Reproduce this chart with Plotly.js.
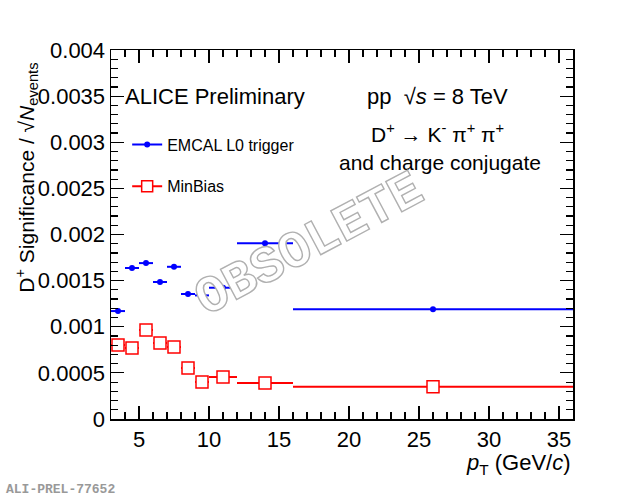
<!DOCTYPE html>
<html>
<head>
<meta charset="utf-8">
<script src="https://cdn.plot.ly/plotly-3.0.1.min.js"></script>
<style>
  body { margin: 0; background: #fff; }
  /* outlined watermark */
  g.annotation[data-index="5"] text { fill: #fff !important; stroke: #b0b0b0; stroke-width: 1.4px; }
</style>
</head>
<body>
<div id="myPlot" style="width:620px;height:497px;"></div>
<script>
// pT bins (GeV/c)
var binCenters = [3.5, 4.5, 5.5, 6.5, 7.5, 8.5, 9.5, 11, 14, 26];
var binHalfWidths = [0.5, 0.5, 0.5, 0.5, 0.5, 0.5, 0.5, 1, 2, 10];

// D+ significance / sqrt(Nevents)
var emcalSig = [0.00117, 0.001637, 0.00169, 0.001485, 0.00165, 0.001355, 0.00134, 0.001423, 0.001905, 0.001189];
var emcalErr = [0.00002, 0.00002, 0.00002, 0.00002, 0.00002, 0.00002, 0.00002, 0.00002, 0.00002, 0.00001];
var minbiasSig = [0.000802, 0.00077, 0.000965, 0.000824, 0.00078, 0.000553, 0.000401, 0.000455, 0.00039, 0.00035];
var minbiasErr = [0.00002, 0.00002, 0.00002, 0.00002, 0.00002, 0.00002, 0.00002, 0.00002, 0.00001, 0.00001];

var yTickVals = [0, 0.0005, 0.001, 0.0015, 0.002, 0.0025, 0.003, 0.0035, 0.004];
var yTickText = ['0', '0.0005', '0.001', '0.0015', '0.002', '0.0025', '0.003', '0.0035', '0.004'];

var blue = 'rgb(0,0,255)';
var red = 'rgb(255,0,0)';

var emcal = {
  x: binCenters, y: emcalSig, type: 'scatter', mode: 'markers',
  marker: {color: blue, size: 6, symbol: 'circle'},
  error_x: {type: 'data', array: binHalfWidths, width: 0, thickness: 2, color: blue},
  error_y: {type: 'data', array: emcalErr, width: 0, thickness: 2, color: blue},
  showlegend: false
};
var minbias = {
  x: binCenters, y: minbiasSig, type: 'scatter', mode: 'markers',
  marker: {color: 'white', size: 12, symbol: 'square', line: {color: red, width: 1.5}},
  error_x: {type: 'data', array: binHalfWidths, width: 0, thickness: 2, color: red},
  error_y: {type: 'data', array: minbiasErr, width: 0, thickness: 2, color: red},
  showlegend: false
};
// legend entries
var emcalLeg = {
  x: [null], y: [null], type: 'scatter', mode: 'lines+markers', name: 'EMCAL L0 trigger',
  line: {color: blue, width: 2}, marker: {color: blue, size: 6}, legendgroup: 'a'
};
var minbiasLeg = {
  x: [null], y: [null], type: 'scatter', mode: 'lines+markers', name: 'MinBias',
  line: {color: red, width: 2},
  marker: {color: 'white', size: 11, symbol: 'square', line: {color: red, width: 1.5}},
  legendgroup: 'b'
};

var font = 'Liberation Sans, Arial, sans-serif';

var layout = {
  width: 620, height: 497,
  margin: {l: 111, r: 47, t: 50, b: 78},
  paper_bgcolor: 'white', plot_bgcolor: 'white',
  font: {family: font, color: 'black', size: 22},
  xaxis: {
    range: [3, 36], showgrid: false, zeroline: false,
    showline: true, linecolor: 'black', linewidth: 1.5, mirror: 'allticks',
    ticks: 'inside', ticklen: 13, tickwidth: 1.2, tickcolor: 'black',
    tickvals: [5, 10, 15, 20, 25, 30, 35],
    tickfont: {size: 22},
    minor: {dtick: 1, tick0: 0, ticks: 'inside', ticklen: 7, tickwidth: 1.2, tickcolor: 'black'}
  },
  yaxis: {
    range: [0, 0.004], showgrid: false, zeroline: false,
    showline: true, linecolor: 'black', linewidth: 1.5, mirror: 'allticks',
    ticks: 'inside', ticklen: 13, tickwidth: 1.2, tickcolor: 'black',
    tickvals: yTickVals, ticktext: yTickText,
    tickfont: {size: 22},
    minor: {dtick: 0.0001, tick0: 0, ticks: 'inside', ticklen: 7, tickwidth: 1.2, tickcolor: 'black'}
  },
  legend: {
    x: 0.035, y: 0.79, xanchor: 'left', yanchor: 'top',
    bgcolor: 'rgba(0,0,0,0)', borderwidth: 0,
    font: {size: 16}, tracegroupgap: 18
  },
  annotations: [
    {xref: 'paper', yref: 'paper', x: 0.025, y: 0.875, xanchor: 'left', yanchor: 'middle',
     text: 'ALICE Preliminary', showarrow: false, font: {size: 22}},
    {xref: 'paper', yref: 'paper', x: 0.706, y: 0.875, xanchor: 'center', yanchor: 'middle',
     text: 'pp  \u221A<i>s</i> = 8 TeV', showarrow: false, font: {size: 22}},
    {xref: 'paper', yref: 'paper', x: 0.706, y: 0.775, xanchor: 'center', yanchor: 'middle',
     text: 'D<sup>+</sup> \u2192 K<sup>-</sup> \u03C0<sup>+</sup> \u03C0<sup>+</sup>', showarrow: false, font: {size: 21}},
    {xref: 'paper', yref: 'paper', x: 0.712, y: 0.696, xanchor: 'center', yanchor: 'middle',
     text: 'and charge conjugate', showarrow: false, font: {size: 21}},
    {xref: 'paper', yref: 'paper', x: 1.0, y: -0.123, xanchor: 'right', yanchor: 'middle',
     text: '<i>p</i><sub>T</sub> (GeV/<i>c</i>)', showarrow: false, font: {size: 22}},
    {xref: 'paper', yref: 'paper', x: 0.43, y: 0.47, xanchor: 'center', yanchor: 'middle',
     text: '<b>OBSOLETE</b>', showarrow: false, textangle: -28,
     font: {family: 'Liberation Mono, Courier New, monospace', size: 52, color: '#b0b0b0'}},
    {xref: 'paper', yref: 'paper', x: -0.232, y: -0.19, xanchor: 'left', yanchor: 'middle',
     text: '<b>ALI-PREL-77652</b>', showarrow: false,
     font: {family: 'Liberation Mono, Courier New, monospace', size: 13, color: '#999999'}},
    {xref: 'paper', yref: 'paper', x: -0.183, y: 0.655, xanchor: 'center', yanchor: 'middle',
     text: 'D<sup>+</sup> Significance / \u221A<i>N</i><sub>events</sub>', showarrow: false,
     textangle: -90, font: {size: 21}}
  ]
};

Plotly.newPlot('myPlot', [emcal, minbias, emcalLeg, minbiasLeg], layout, {displayModeBar: false, staticPlot: true});
</script>
</body>
</html>
